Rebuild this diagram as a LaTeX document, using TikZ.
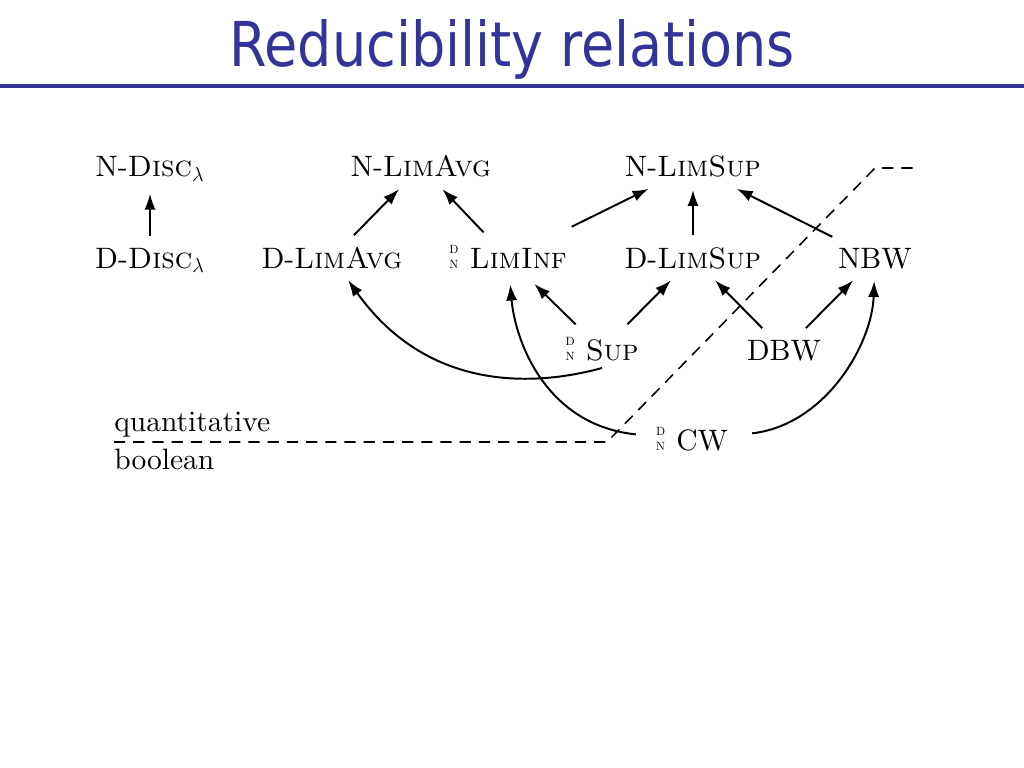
\documentclass[tikz,border=0pt]{standalone}
\usepackage{fontspec}
\usepackage{graphicx}
\setmainfont{lmroman10-regular.otf}[SmallCapsFont=lmromancaps10-regular.otf]
\newfontfamily\titlefont{DejaVu Sans}
\usetikzlibrary{arrows.meta}
\definecolor{slideblue}{RGB}{51,51,153}
\newcommand{\dn}{{\fontsize{8.5}{10}\selectfont\begin{tabular}[b]{@{}c@{}}D\\N\end{tabular}}\hspace{0.28cm}}

\begin{document}
\begin{tikzpicture}[x=0.025cm, y=-0.025cm,
	every node/.style={inner xsep=0.1cm, inner ysep=0.25cm, font=\fontsize{21}{25}\selectfont},
	rel/.style={-{Latex[length=0.4cm, width=0.28cm]}, line width=1.4pt, shorten >=0.05cm, shorten <=0.05cm},
	divline/.style={dash pattern=on 0.28cm off 0.2cm, line width=1.1pt}]
	\useasboundingbox (0,0) rectangle (1024,768);
	% title
	\node[anchor=base, inner sep=0, text=slideblue] (title) at (512,67) {\resizebox{14.125cm}{1.175cm}{\titlefont Reducibility relations}};
	\fill[slideblue] (0,84) rectangle (1024,88);
%
	\node[anchor=base] (ndisc) at (150,177) {N-\textsc{Disc}$_\lambda$};
	\node[anchor=base] (ddisc) at (150,268) {D-\textsc{Disc}$_\lambda$};
	\node[anchor=base] (nlimavg) at (421,177) {N-\textsc{LimAvg}};
	\node[anchor=base] (dlimavg) at (332,268) {D-\textsc{LimAvg}};
	\node[anchor=base] (liminf) at (508,268) {\dn\textsc{LimInf}};
	\node[anchor=base] (nlimsup) at (693,177) {N-\textsc{LimSup}};
	\node[anchor=base] (dlimsup) at (693,268) {D-\textsc{LimSup}};
	\node[anchor=base] (nbw) at (875,268) {NBW};
	\node[anchor=base] (sup) at (602,360) {\dn\textsc{Sup}};
	\node[anchor=base] (dbw) at (784,360) {DBW};
	\node[anchor=base] (cw) at (692,450) {\dn CW};
	\node[anchor=base west, inner sep=0] (quant) at (114,431) {quantitative};
	\node[anchor=base west, inner sep=0] (bool) at (114,469) {boolean};
%
	\coordinate (sepL) at (114,442);
	\coordinate (sepM) at (607,442);
	\coordinate (sepK) at (875,168);
	\coordinate (sepR) at (918,168);
	\draw[divline] (sepL) -- (sepM) -- (sepK) -- (sepR);
%
	\draw[rel] (ddisc) -- (ndisc);
	\draw[rel] (dlimavg) -- (nlimavg);
	\draw[rel] (liminf) -- (nlimavg);
	\draw[rel, shorten <=0.4cm] (liminf) -- (nlimsup);
	\draw[rel] (dlimsup) -- (nlimsup);
	\draw[rel] (nbw) -- (nlimsup);
	\draw[rel] (sup) -- (liminf);
	\draw[rel] (sup) -- (dlimsup);
	\draw[rel] (dbw) -- (dlimsup);
	\draw[rel] (dbw) -- (nbw);
	\draw[rel, shorten <=0pt] ([yshift=-0.2cm]sup.base) .. controls (540,385) and (430,395) .. (dlimavg);
	\draw[rel, shorten <=0.4cm] (cw) .. controls (545,425) and (515,340) .. (liminf);
	\draw[rel, shorten <=0.5cm] (cw) .. controls (825,425) and (872,345) .. (nbw);
\end{tikzpicture}
\end{document}
